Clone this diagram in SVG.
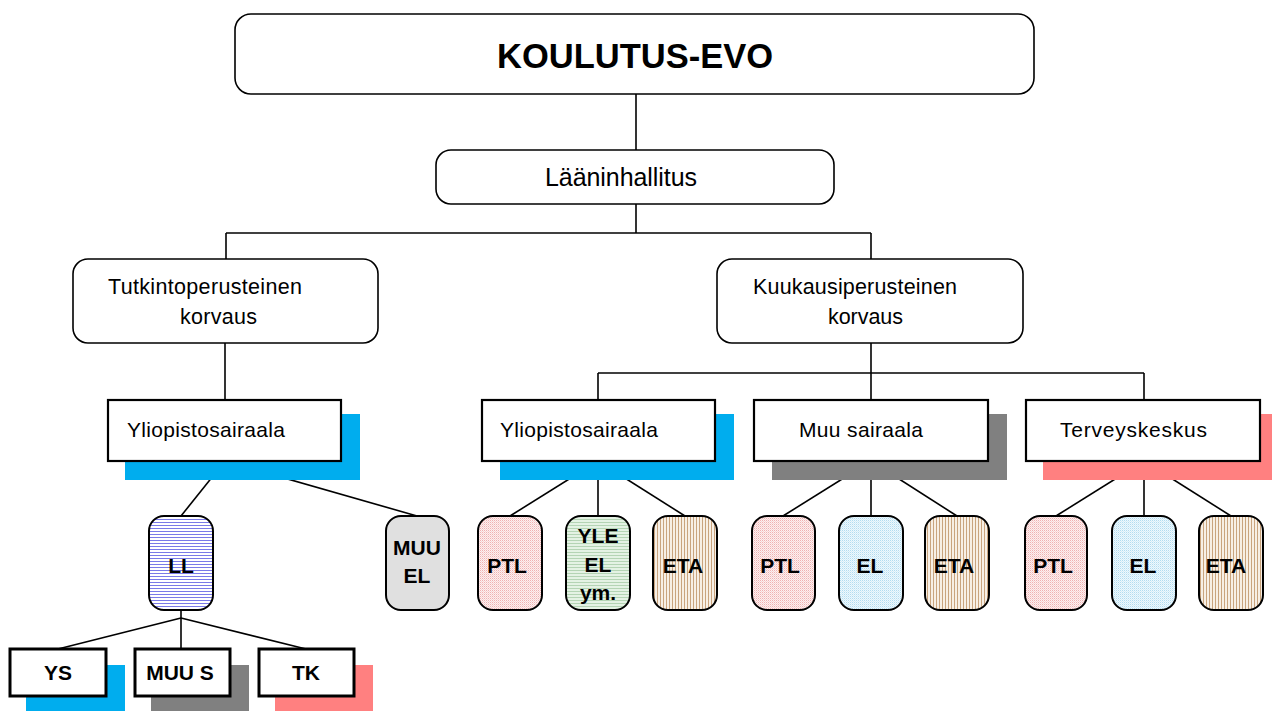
<svg xmlns="http://www.w3.org/2000/svg" width="1272" height="711" viewBox="0 0 1272 711">
<defs>
<pattern id="pLL" width="4" height="3" patternUnits="userSpaceOnUse"><rect width="4" height="3" fill="#ffffff"/><rect width="4" height="1" fill="#7a7ae8"/></pattern>
<pattern id="pPTL" width="2" height="2" patternUnits="userSpaceOnUse"><rect width="2" height="2" fill="#fdf0f0"/><rect width="1" height="1" fill="#efb2b2"/><rect x="1" y="1" width="1" height="1" fill="#f7d4d4"/></pattern>
<pattern id="pEL" width="2" height="2" patternUnits="userSpaceOnUse"><rect width="2" height="2" fill="#eef8fd"/><rect width="1" height="1" fill="#b2dcf0"/><rect x="1" y="1" width="1" height="1" fill="#d4edf8"/></pattern>
<pattern id="pETA" width="3" height="4" patternUnits="userSpaceOnUse"><rect width="3" height="4" fill="#f7efe5"/><rect width="1" height="4" fill="#c9a47e"/></pattern>
<pattern id="pYLE" width="4" height="3" patternUnits="userSpaceOnUse"><rect width="4" height="3" fill="#e4f2e4"/><rect width="4" height="1" fill="#b4d4b4"/></pattern>
</defs>
<style>
.rb{fill:#ffffff;stroke:#000;stroke-width:1.6}
.sq{fill:#ffffff;stroke:#000;stroke-width:2.2}
.sq3{fill:#ffffff;stroke:#000;stroke-width:3}
.ch{stroke:#000;stroke-width:2}
.ln{stroke:#000;stroke-width:1.6;fill:none}
.t{font-family:"Liberation Sans",Arial,sans-serif;fill:#000}
.b{font-family:"Liberation Sans",Arial,sans-serif;font-weight:bold;fill:#000;font-size:21px;text-anchor:middle}
.blue{fill:#00adee}
.gray{fill:#808080}
.red{fill:#ff8080}
</style>

<g id="connectors" class="ln">
<line x1="636" y1="94" x2="636" y2="150"/>
<line x1="636" y1="204" x2="636" y2="233"/>
<line x1="226" y1="233" x2="871" y2="233"/>
<line x1="226" y1="233" x2="226" y2="259"/>
<line x1="871" y1="233" x2="871" y2="259"/>
<line x1="225" y1="343" x2="225" y2="400"/>
<line x1="871" y1="343" x2="871" y2="400"/>
<line x1="598" y1="373" x2="1144" y2="373"/>
<line x1="598" y1="373" x2="598" y2="400"/>
<line x1="1144" y1="373" x2="1144" y2="400"/>
<line x1="225" y1="461" x2="181" y2="516"/>
<line x1="225" y1="461" x2="417" y2="516"/>
<line x1="598" y1="461" x2="510" y2="516"/>
<line x1="598" y1="461" x2="598" y2="516"/>
<line x1="598" y1="461" x2="685" y2="516"/>
<line x1="871" y1="461" x2="783" y2="516"/>
<line x1="871" y1="461" x2="871" y2="516"/>
<line x1="871" y1="461" x2="957" y2="516"/>
<line x1="1144" y1="461" x2="1056" y2="516"/>
<line x1="1144" y1="461" x2="1144" y2="516"/>
<line x1="1144" y1="461" x2="1231" y2="516"/>
<line x1="181" y1="610" x2="181" y2="618"/>
<line x1="181" y1="618" x2="58" y2="649"/>
<line x1="181" y1="618" x2="181" y2="649"/>
<line x1="181" y1="618" x2="306" y2="649"/>
</g>

<g id="koulutus-evo">
<rect class="rb" x="235" y="14" width="799" height="80" rx="16"/>
<text class="t" x="635" y="68" font-size="34.5" font-weight="bold" text-anchor="middle">KOULUTUS-EVO</text>
</g>

<g id="laaninhallitus">
<rect class="rb" x="436" y="150" width="398" height="54" rx="15"/>
<text class="t" x="621" y="186" font-size="25" text-anchor="middle" textLength="152">Lääninhallitus</text>
</g>

<g id="tutkintoperusteinen">
<rect class="rb" x="73" y="259" width="305" height="84" rx="15"/>
<text class="t" x="108" y="294" font-size="21.5" textLength="194">Tutkintoperusteinen</text>
<text class="t" x="180" y="324" font-size="21.5" textLength="77">korvaus</text>
</g>

<g id="kuukausiperusteinen">
<rect class="rb" x="717" y="259" width="306" height="84" rx="15"/>
<text class="t" x="753" y="294" font-size="21.5" textLength="204">Kuukausiperusteinen</text>
<text class="t" x="828" y="324" font-size="21.5" textLength="75">korvaus</text>
</g>

<g id="yliopistosairaala-1">
<rect class="blue" x="125" y="414" width="235" height="66"/>
<rect class="sq" x="108" y="400" width="233" height="61"/>
<text class="t" x="127" y="437" font-size="21" textLength="158">Yliopistosairaala</text>
</g>

<g id="yliopistosairaala-2">
<rect class="blue" x="500" y="414" width="234" height="66"/>
<rect class="sq" x="482" y="400" width="233" height="61"/>
<text class="t" x="500" y="437" font-size="21" textLength="158">Yliopistosairaala</text>
</g>

<g id="muu-sairaala">
<rect class="gray" x="772" y="414" width="235" height="66"/>
<rect class="sq" x="754" y="400" width="234" height="61"/>
<text class="t" x="799" y="437" font-size="21" textLength="124">Muu sairaala</text>
</g>

<g id="terveyskeskus">
<rect class="red" x="1043" y="414" width="229" height="66"/>
<rect class="sq" x="1026" y="400" width="234" height="61"/>
<text class="t" x="1060" y="437" font-size="21" textLength="147">Terveyskeskus</text>
</g>

<g id="ll">
<rect class="ch" fill="url(#pLL)" x="149" y="516" width="64" height="94" rx="15"/>
<text class="b" x="181" y="573">LL</text>
</g>

<g id="muu-el">
<rect class="ch" fill="#e0e0e0" x="386" y="516" width="63" height="94" rx="15"/>
<text class="b" x="417" y="555">MUU</text>
<text class="b" x="417" y="583">EL</text>
</g>

<g id="ptl-1">
<rect class="ch" fill="url(#pPTL)" x="478" y="516" width="64" height="94" rx="15"/>
<text class="b" x="507" y="573">PTL</text>
</g>
<g id="yle-el">
<rect class="ch" fill="url(#pYLE)" x="566" y="516" width="64" height="94" rx="15"/>
<text class="b" x="598" y="543">YLE</text>
<text class="b" x="598" y="572">EL</text>
<text class="b" x="598" y="600">ym.</text>
</g>
<g id="eta-1">
<rect class="ch" fill="url(#pETA)" x="653" y="516" width="64" height="94" rx="15"/>
<text class="b" x="683" y="573">ETA</text>
</g>

<g id="ptl-2">
<rect class="ch" fill="url(#pPTL)" x="752" y="516" width="63" height="94" rx="15"/>
<text class="b" x="780" y="573">PTL</text>
</g>
<g id="el-2">
<rect class="ch" fill="url(#pEL)" x="839" y="516" width="64" height="94" rx="15"/>
<text class="b" x="870" y="573">EL</text>
</g>
<g id="eta-2">
<rect class="ch" fill="url(#pETA)" x="925" y="516" width="64" height="94" rx="15"/>
<text class="b" x="954" y="573">ETA</text>
</g>

<g id="ptl-3">
<rect class="ch" fill="url(#pPTL)" x="1025" y="516" width="62" height="94" rx="15"/>
<text class="b" x="1053" y="573">PTL</text>
</g>
<g id="el-3">
<rect class="ch" fill="url(#pEL)" x="1112" y="516" width="64" height="94" rx="15"/>
<text class="b" x="1143" y="573">EL</text>
</g>
<g id="eta-3">
<rect class="ch" fill="url(#pETA)" x="1199" y="516" width="64" height="94" rx="15"/>
<text class="b" x="1226" y="573">ETA</text>
</g>

<g id="ys">
<rect class="blue" x="26" y="665" width="99" height="46"/>
<rect class="sq3" x="10" y="649" width="96" height="47"/>
<text class="b" x="58" y="680">YS</text>
</g>
<g id="muu-s">
<rect class="gray" x="151" y="665" width="98" height="46"/>
<rect class="sq3" x="135" y="649" width="95" height="47"/>
<text class="b" x="180" y="680">MUU S</text>
</g>
<g id="tk">
<rect class="red" x="275" y="665" width="98" height="46"/>
<rect class="sq3" x="259" y="649" width="95" height="47"/>
<text class="b" x="306" y="680">TK</text>
</g>
</svg>
